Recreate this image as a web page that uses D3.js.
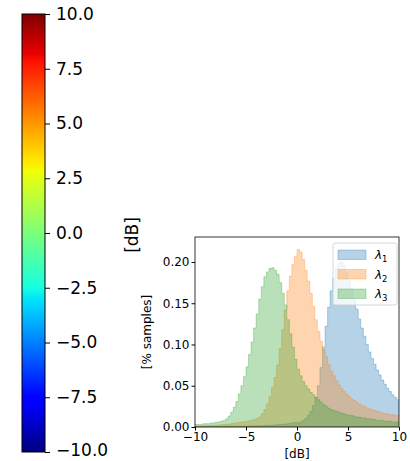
<!DOCTYPE html>
<html><head><meta charset="utf-8">
<script src="https://cdn.jsdelivr.net/npm/d3@7"></script>
<style>body{margin:0;background:#fff}svg{display:block}text{font-family:"DejaVu Sans",sans-serif}</style>
</head><body>
<svg id="c" width="410" height="461"></svg>
<script>
// ---- data ----
const cbTicks = [10, 7.5, 5, 2.5, 0, -2.5, -5, -7.5, -10];
const xTicks = [-10, -5, 0, 5, 10];
const yTicks = [0, 0.05, 0.10, 0.15, 0.20];
const binStart = -10, binWidth = 0.25;
const seriesNames = ["1", "2", "3"];
const lambda1 = [0.0005,0.0005,0.0005,0.0005,0.0005,0.0006,0.0006,0.0006,0.0007,0.0007,0.0007,0.0008,0.0008,0.0008,0.0009,0.0009,0.001,0.001,0.001,0.0011,0.0012,0.0012,0.0013,0.0014,0.0015,0.0016,0.0017,0.0018,0.002,0.0021,0.0023,0.0025,0.0027,0.003,0.0033,0.0036,0.004,0.0045,0.005,0.0057,
  0.005,0.006,0.008,0.010,0.014,0.019,0.026,0.036,0.050,0.072,0.097,0.122,0.145,0.165,0.180,0.192,0.198,0.200,0.196,0.188,0.178,0.167,0.155,0.143,0.131,0.120,0.110,0.100,0.091,0.083,0.076,0.069,0.063,0.057,0.052,0.047,0.043,0.039,0.036,0.033];
const lambda2 = [0.001,0.001,0.0012,0.0013,0.0015,0.0016,0.0018,0.002,0.0022,0.0024,0.0027,0.003,0.0033,0.0036,0.004,0.0045,0.005,0.0055,0.006,0.0065,0.007,0.0075,0.008,0.009,0.010,0.012,0.016,0.021,0.028,0.037,0.048,0.060,0.075,0.095,0.118,0.142,0.165,0.183,0.197,0.207,
  0.215,0.212,0.203,0.190,0.177,0.162,0.146,0.130,0.116,0.104,0.094,0.085,0.076,0.068,0.062,0.056,0.051,0.047,0.043,0.040,0.037,0.034,0.032,0.030,0.028,0.026,0.025,0.023,0.022,0.021,0.020,0.019,0.018,0.017,0.016,0.016,0.015,0.015,0.014,0.014];
const lambda3 = [0.003,0.003,0.003,0.004,0.004,0.004,0.005,0.005,0.006,0.006,0.007,0.008,0.010,0.013,0.018,0.024,0.031,0.040,0.050,0.061,0.073,0.088,0.103,0.120,0.137,0.155,0.170,0.182,0.188,0.192,0.193,0.190,0.185,0.175,0.162,0.148,0.130,0.113,0.097,0.082,
  0.070,0.062,0.055,0.050,0.046,0.042,0.039,0.036,0.033,0.030,0.027,0.025,0.023,0.021,0.020,0.019,0.018,0.017,0.016,0.015,0.014,0.014,0.013,0.012,0.012,0.011,0.011,0.010,0.010,0.009,0.009,0.008,0.008,0.008,0.007,0.007,0.007,0.006,0.006,0.006];
const seriesValues = [lambda1, lambda2, lambda3];
const seriesColors = ["#1f77b4", "#ff7f0e", "#2ca02c"];

// jet colormap segment definition (matplotlib)
const jetR = [[0,0],[0.35,0],[0.66,1],[0.89,1],[1,0.5]];
const jetG = [[0,0],[0.125,0],[0.375,1],[0.64,1],[0.91,0],[1,0]];
const jetB = [[0,0.5],[0.11,1],[0.34,1],[0.65,0],[1,0]];
function seg(s, t){ for(let i=1;i<s.length;i++){ if(t<=s[i][0]){ const a=s[i-1],b=s[i]; return a[1]+(b[1]-a[1])*(t-a[0])/(b[0]-a[0]); } } return s[s.length-1][1]; }
function jet(t){ return d3.rgb(255*seg(jetR,t),255*seg(jetG,t),255*seg(jetB,t)).formatHex(); }

const svg = d3.select("#c");
const fmtMinus = s => s.replace("-", "\u2212");

// ---- colorbar ----
const cb = {x: 22, w: 23, top: 14, bottom: 452};
const cbScale = d3.scaleLinear().domain([-10, 10]).range([cb.bottom, cb.top]);
const defs = svg.append("defs");
const grad = defs.append("linearGradient").attr("id","jet").attr("x1",0).attr("y1",1).attr("x2",0).attr("y2",0);
const stopsT = [0,0.11,0.125,0.34,0.35,0.375,0.64,0.65,0.66,0.89,0.91,1];
stopsT.forEach(t => grad.append("stop").attr("offset", t).attr("stop-color", jet(t)));
svg.append("rect").attr("x", cb.x).attr("y", cb.top).attr("width", cb.w).attr("height", cb.bottom-cb.top).attr("fill","url(#jet)");
svg.append("rect").attr("x", cb.x).attr("y", cb.top).attr("width", cb.w).attr("height", cb.bottom-cb.top).attr("fill","none").attr("stroke","#000").attr("stroke-width",1);
const cbAxis = d3.axisRight(cbScale).tickValues(cbTicks).tickFormat(d => fmtMinus(d3.format(".1f")(d))).tickSize(5).tickPadding(6);
const cbG = svg.append("g").attr("transform", `translate(${cb.x+cb.w},0)`).call(cbAxis);
cbG.select(".domain").remove();
cbG.selectAll("text").attr("font-size", 17).attr("fill","#000").attr("font-family","DejaVu Sans");
cbG.selectAll("text").filter(d => d === -10).attr("dy", "0.22em");
cbG.selectAll("line").attr("stroke","#000").attr("stroke-width",1);
svg.append("text").attr("transform","translate(138,235) rotate(-90)").attr("text-anchor","middle")
  .attr("font-size",17).text("[dB]");

// ---- histogram axes ----
const ax = {left: 195, right: 399, top: 237, bottom: 427};
const x = d3.scaleLinear().domain([-10, 10]).range([ax.left, ax.right]);
const y = d3.scaleLinear().domain([0, 0.2303]).range([ax.bottom, ax.top]);
defs.append("clipPath").attr("id","clipAx").append("rect")
  .attr("x", ax.left).attr("y", ax.top).attr("width", ax.right-ax.left).attr("height", ax.bottom-ax.top);
const plot = svg.append("g").attr("clip-path","url(#clipAx)");
seriesValues.forEach((vals, i) => {
  const pts = vals.map((v, j) => [binStart + j*binWidth, v]);
  pts.push([binStart + vals.length*binWidth, vals[vals.length-1]]);
  const area = d3.area().x(d => x(d[0])).y0(y(0)).y1(d => y(d[1])).curve(d3.curveStepAfter);
  const line = d3.line().x(d => x(d[0])).y(d => y(d[1])).curve(d3.curveStepAfter);
  plot.append("path").attr("d", area(pts)).attr("fill", seriesColors[i]).attr("fill-opacity", 0.33);
  plot.append("path").attr("d", line(pts)).attr("fill","none").attr("stroke", seriesColors[i]).attr("stroke-opacity", 0.3).attr("stroke-width",1);
});
// frame
svg.append("rect").attr("x", ax.left).attr("y", ax.top).attr("width", ax.right-ax.left).attr("height", ax.bottom-ax.top)
  .attr("fill","none").attr("stroke","#000").attr("stroke-width",0.8);
const xAxis = d3.axisBottom(x).tickValues(xTicks).tickFormat(d => fmtMinus(String(d))).tickSize(3.5).tickPadding(2);
const xg = svg.append("g").attr("transform",`translate(0,${ax.bottom})`).call(xAxis);
xg.select(".domain").remove();
xg.selectAll("text").attr("font-size",12).attr("fill","#000").attr("font-family","DejaVu Sans");
const yAxis = d3.axisLeft(y).tickValues(yTicks).tickFormat(d3.format(".2f")).tickSize(3.5).tickPadding(2);
const yg = svg.append("g").attr("transform",`translate(${ax.left},0)`).call(yAxis);
yg.select(".domain").remove();
yg.selectAll("text").attr("font-size",12).attr("fill","#000").attr("font-family","DejaVu Sans");
svg.append("text").attr("x", 297).attr("y", 457.5).attr("text-anchor","middle").attr("font-size",12).text("[dB]");
svg.append("text").attr("transform","translate(151,332) rotate(-90)").attr("text-anchor","middle").attr("font-size",12).text("[% samples]");

// legend
const lg = svg.append("g").attr("transform","translate(333,243)");
lg.append("rect").attr("width",64).attr("height",62).attr("rx",2.5).attr("fill","#fff").attr("fill-opacity",0.8).attr("stroke","#ccc").attr("stroke-width",0.8);
seriesNames.forEach((n, i) => {
  const yy = 7 + i*19.5;
  lg.append("rect").attr("x",5).attr("y",yy).attr("width",28).attr("height",9.5).attr("fill",seriesColors[i]).attr("fill-opacity",0.33)
    .attr("stroke",seriesColors[i]).attr("stroke-opacity",0.3);
  const t = lg.append("text").attr("x",42).attr("y",yy+9).attr("font-size",12);
  t.append("tspan").attr("font-style","italic").text("\u03bb");
  t.append("tspan").attr("font-size",8.5).attr("dy",3).text(n);
});
</script>
</body></html>
